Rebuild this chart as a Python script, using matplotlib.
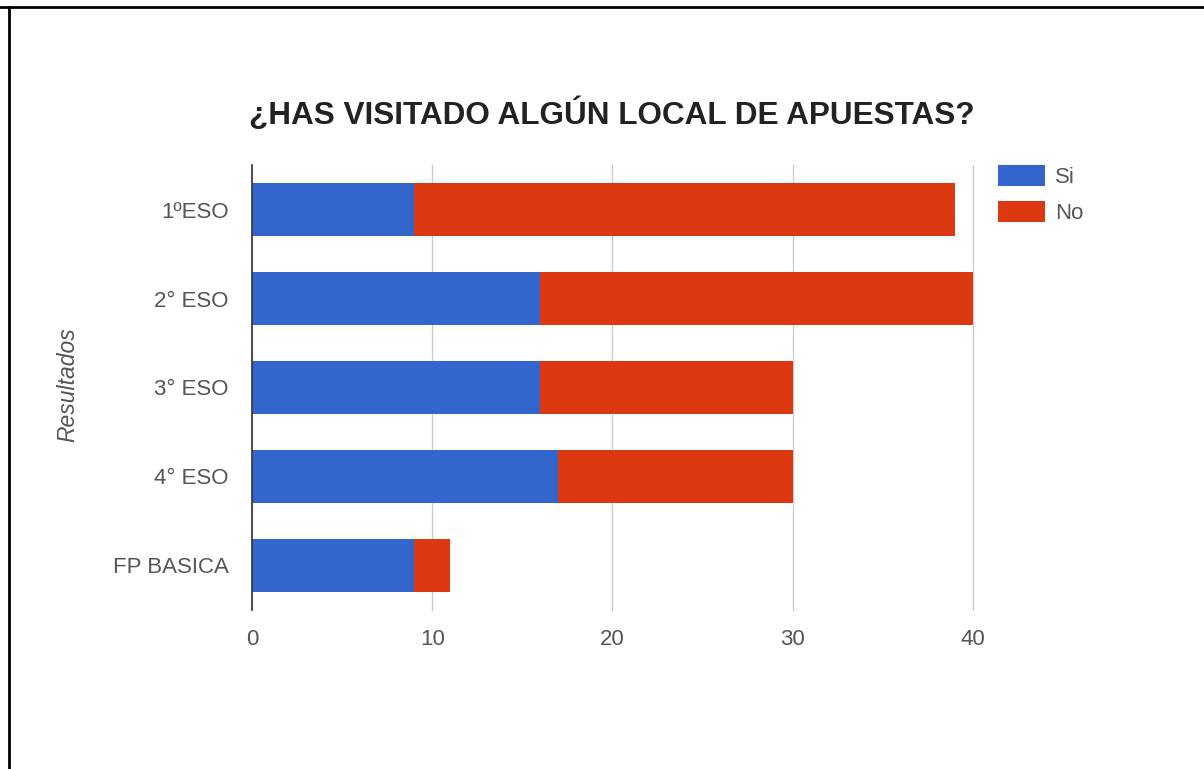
import numpy as np
import matplotlib.pyplot as plt
from matplotlib.lines import Line2D

cursos = ["1ºESO", "2° ESO", "3° ESO", "4° ESO", "FP BASICA"]
si = [9, 16, 16, 17, 9]
no = [30, 24, 14, 13, 2]

azul = "#3366cc"
rojo = "#dc3912"
gris = "#555555"

plt.rcParams["font.family"] = ["Liberation Sans", "DejaVu Sans"]

fig = plt.figure(figsize=(12.04, 7.69), dpi=100)
ax = fig.add_axes([0.2093, 0.2068, 0.5988, 0.5786])

y = np.arange(len(cursos))
ax.barh(y, si, height=0.605, color=azul, label="Si", zorder=3)
ax.barh(y, no, left=si, height=0.605, color=rojo, label="No", zorder=3)

ax.set_xlim(0, 40)
ax.set_ylim(len(cursos) - 0.5, -0.5)
ax.set_yticks(y)
ax.set_yticklabels(cursos)
ax.set_xticks([0, 10, 20, 30, 40])
ax.xaxis.grid(True, color="#cccccc", linewidth=1, zorder=0)
for gl in ax.get_xgridlines():
    gl.set_clip_on(False)
ax.tick_params(axis="both", length=0, labelsize=16, colors=gris)
ax.tick_params(axis="y", pad=17)
ax.tick_params(axis="x", pad=14)
for s in ["top", "right", "bottom"]:
    ax.spines[s].set_visible(False)
ax.spines["left"].set_color("#333333")
ax.spines["left"].set_linewidth(1.2)
ax.spines["left"].set_zorder(4)

fig.text(0.0565, 0.50, "Resultados", rotation=90, style="italic", fontsize=16.5,
         color=gris, ha="center", va="center")
fig.text(0.5083, 0.852, "¿HAS VISITADO ALGÚN LOCAL DE APUESTAS?", fontsize=22.7,
         fontweight="bold", color="#222222", ha="center", va="center")

ax.legend(loc="upper left", bbox_to_anchor=(0.8289, 0.786), bbox_transform=fig.transFigure,
          frameon=False, fontsize=16, handlelength=2.1, handleheight=1.1,
          handletextpad=0.45, labelspacing=0.6, borderaxespad=0, borderpad=0,
          labelcolor=gris)

# marco de la captura
fig.add_artist(Line2D([0.0, 1.0], [0.9905, 0.9905], transform=fig.transFigure,
                      color="black", linewidth=2))
fig.add_artist(Line2D([0.0075, 0.0075], [0.0, 0.9905], transform=fig.transFigure,
                      color="black", linewidth=2))

fig.savefig("out.png", dpi=100)
